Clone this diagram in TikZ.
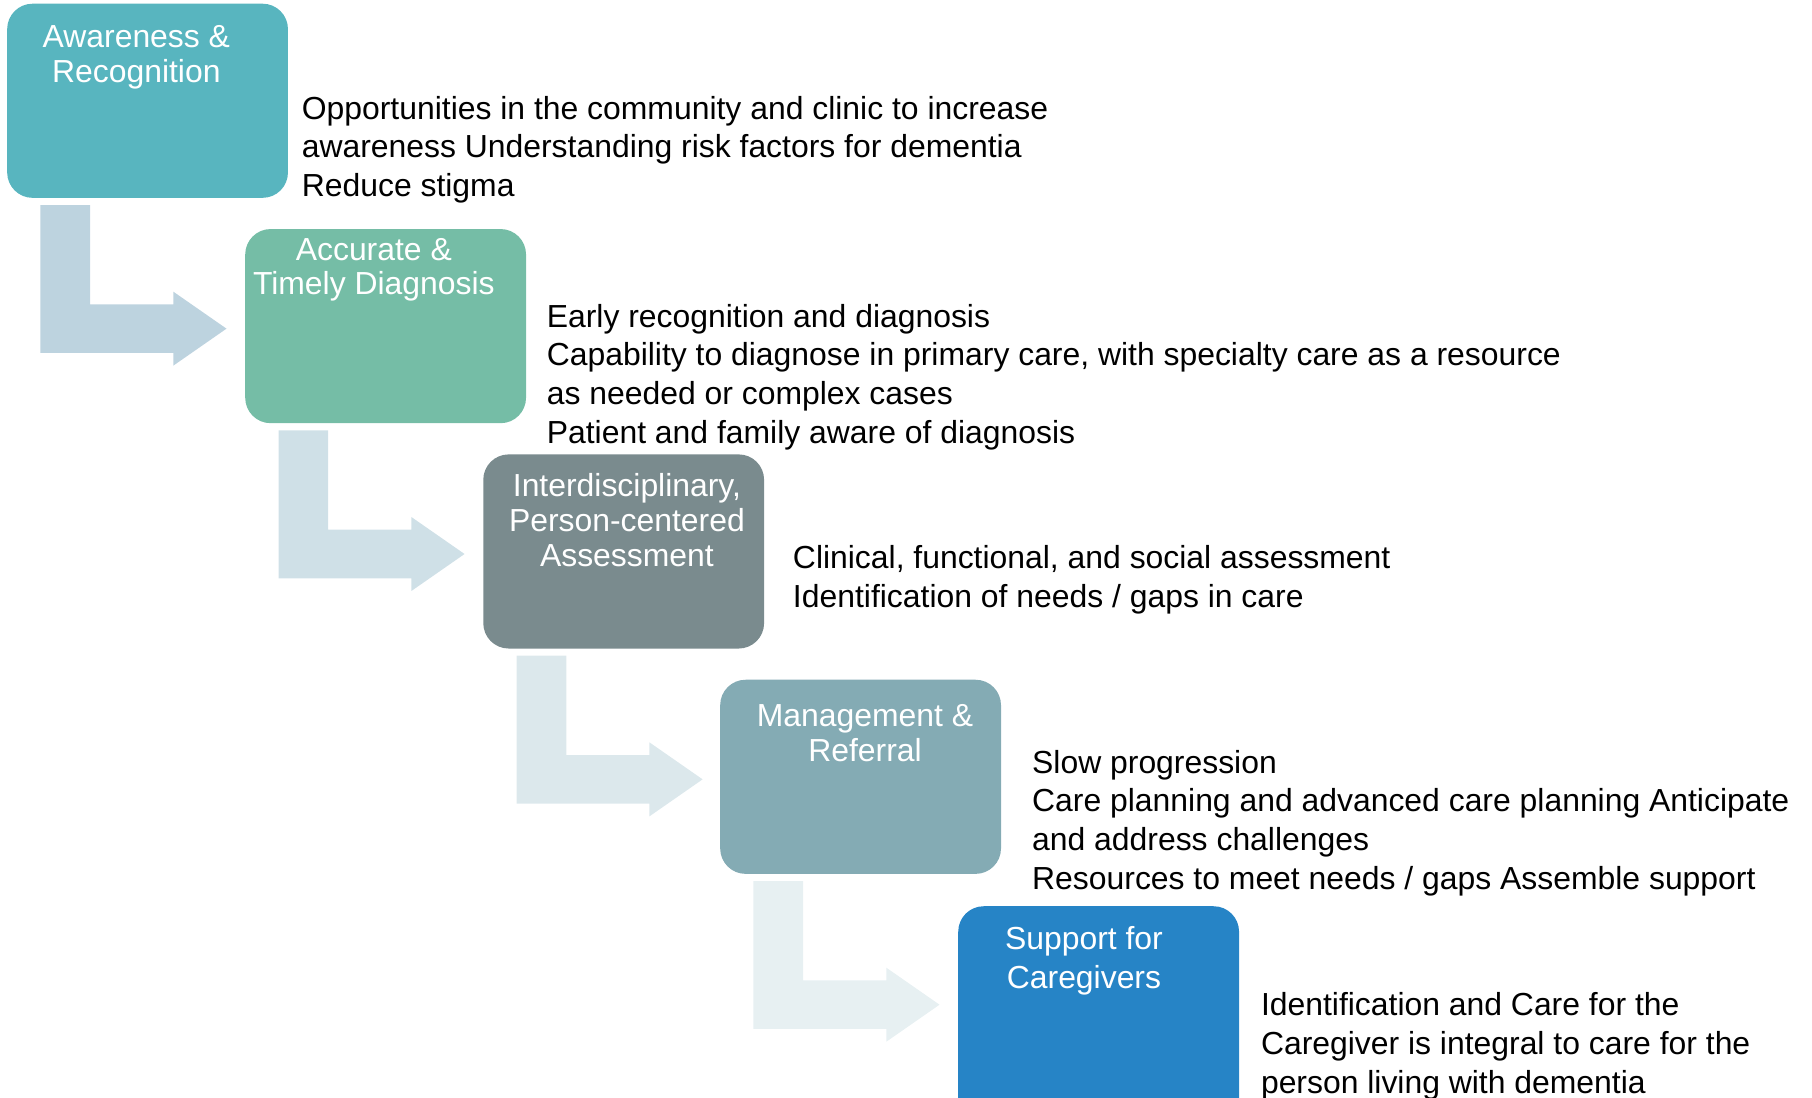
\documentclass[tikz,border=0pt]{standalone}
\usepackage{fontspec}
\setmainfont{Liberation Sans}
\definecolor{c1}{HTML}{58B5BF}
\definecolor{c2}{HTML}{75BDA6}
\definecolor{c3}{HTML}{7A8B8E}
\definecolor{c4}{HTML}{84ABB4}
\definecolor{c5}{HTML}{2684C6}
\definecolor{a1}{HTML}{BDD3DF}
\definecolor{a2}{HTML}{CFE0E7}
\definecolor{a3}{HTML}{DCE8EC}
\definecolor{a4}{HTML}{E7F0F2}
\begin{document}
\begin{tikzpicture}[x=1pt,y=-1pt,
  stage/.style={rectangle, rounded corners=22pt, minimum width=243pt, minimum height=168pt, anchor=north west, inner sep=0pt},
  stagetext/.style={text=white, align=center, font=\fontsize{27.6}{30}\selectfont, anchor=base, inner sep=0pt},
  desc/.style={align=left, font=\fontsize{27.6}{33.5}\selectfont, anchor=base west, inner sep=0pt}]
\useasboundingbox (0,0) rectangle (1568,950);
\clip (0,0) rectangle (1568,950);

% stage boxes
\node[stage, fill=c1] (b1) at (6,3) {};
\node[stage, fill=c2] (b2) at (212,198) {};
\node[stage, fill=c3] (b3) at (418,393) {};
\node[stage, fill=c4] (b4) at (623,588) {};
\node[stage, fill=c5, minimum height=220pt] (b5) at (829,784) {};

% box titles (anchor = baseline of last line)
\node[stagetext] (l1) at (118,71) {Awareness \&\\Recognition};
\node[stagetext] (l2) at (323.5,255) {Accurate \&\\Timely Diagnosis};
\node[stagetext] (l3) at (542.5,490) {Interdisciplinary,\\Person-centered\\Assessment};
\node[stagetext] (l4) at (748.5,659) {Management \&\\Referral};
\node[stagetext, font=\fontsize{27.6}{33}\selectfont] (l5) at (938,855) {Support for\\Caregivers};

% bent arrows
\foreach \b/\c in {b1/a1, b2/a2, b3/a3, b4/a4}{
  \begin{scope}[shift={(\b.south west)}]
    \fill[\c] (29,6) -- (72,6) -- (72,92) -- (144,92) -- (144,81) -- (190,113)
      -- (144,145) -- (144,134) -- (29,134) -- cycle;
  \end{scope}
}

% descriptions (anchor = baseline of last line)
\node[desc] (d1) at (261,170) {Opportunities in the community and clinic to increase\\awareness Understanding risk factors for dementia\\Reduce stigma};
\node[desc] (d2) at (473,383.5) {Early recognition and diagnosis\\Capability to diagnose in primary care, with specialty care as a resource\\as needed or complex cases\\Patient and family aware of diagnosis};
\node[desc] (d3) at (686,525.5) {Clinical, functional, and social assessment\\Identification of needs / gaps in care};
\node[desc] (d4) at (893,769.5) {Slow progression\\Care planning and advanced care planning Anticipate\\and address challenges\\Resources to meet needs / gaps Assemble support};
\node[desc] (d5) at (1091,946) {Identification and Care for the\\Caregiver is integral to care for the\\person living with dementia};
\end{tikzpicture}
\end{document}
